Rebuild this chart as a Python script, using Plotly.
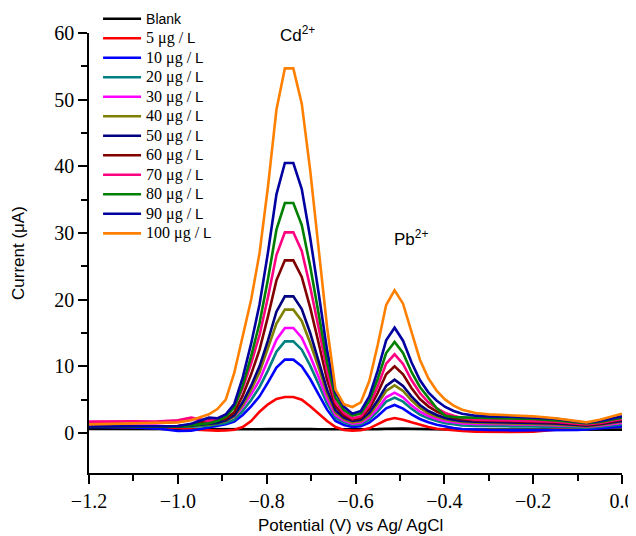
import plotly.graph_objects as go

potential = [-1.20, -1.15, -1.10, -1.05, -1.00, -0.97, -0.930, -0.911, -0.892, -0.873,
             -0.854, -0.835, -0.816, -0.797, -0.778, -0.759, -0.740, -0.721, -0.702, -0.683,
             -0.664, -0.645, -0.626, -0.607, -0.588, -0.569, -0.550, -0.531, -0.512, -0.493,
             -0.474, -0.455, -0.436, -0.417, -0.398, -0.379, -0.360, -0.33, -0.30, -0.25,
             -0.20, -0.15, -0.10, -0.08, -0.05, 0.0]

labels = ["Blank", "5 μg / L", "10 μg / L", "20 μg / L", "30 μg / L", "40 μg / L",
          "50 μg / L", "60 μg / L", "70 μg / L", "80 μg / L", "90 μg / L", "100 μg / L"]

blank = [0.62, 0.60, 0.60, 0.58, 0.57, 0.57, 0.57, 0.57, 0.57, 0.56, 0.56, 0.56, 0.57, 0.58, 0.60, 0.62,
         0.62, 0.60, 0.58, 0.56, 0.55, 0.55, 0.55, 0.55, 0.55, 0.56, 0.58, 0.62, 0.66, 0.65, 0.62, 0.58,
         0.55, 0.53, 0.52, 0.52, 0.52, 0.52, 0.50, 0.50, 0.50, 0.50, 0.50, 0.50, 0.50, 0.50]
c5 = [1.0, 0.95, 0.9, 0.85, 0.75, 0.55, 0.4, 0.35, 0.38, 0.5, 0.9, 1.8, 3.2, 4.3, 5.1, 5.4,
      5.4, 5.0, 4.0, 2.9, 1.8, 0.9, 0.45, 0.35, 0.4, 0.7, 1.3, 1.95, 2.25, 2.0, 1.6, 1.2,
      0.9, 0.65, 0.5, 0.4, 0.3, 0.2, 0.15, 0.15, 0.2, 0.5, 0.6, 0.7, 0.8, 1.0]
c10 = [0.9, 0.9, 0.85, 0.7, 0.3, 0.35, 0.8, 1.1, 1.3, 1.7, 2.7, 4.0, 5.5, 7.6, 9.8, 11.0,
       11.0, 10.0, 8.1, 5.8, 3.5, 1.8, 1.2, 0.9, 1.0, 1.55, 2.55, 3.7, 4.2, 3.65, 2.8, 2.1,
       1.6, 1.25, 0.95, 0.75, 0.6, 0.5, 0.45, 0.4, 0.4, 0.4, 0.45, 0.55, 0.7, 1.0]
c20 = [1.0, 1.0, 1.0, 0.95, 0.9, 0.95, 1.1, 1.25, 1.5, 2.0, 3.3, 4.95, 6.9, 9.4, 12.2, 13.75,
       13.75, 12.5, 10.1, 7.3, 4.4, 2.3, 1.6, 1.2, 1.3, 2.0, 3.25, 4.7, 5.3, 4.7, 3.65, 2.75,
       2.2, 1.8, 1.45, 1.3, 1.15, 1.05, 1.0, 1.0, 1.0, 0.95, 0.85, 0.8, 0.95, 1.3]
c30 = [1.4, 1.45, 1.45, 1.45, 1.7, 2.2, 1.6, 1.6, 1.9, 2.45, 3.9, 5.8, 7.95, 10.85, 14.0, 15.75,
       15.75, 14.3, 11.55, 8.4, 5.1, 2.7, 1.85, 1.4, 1.55, 2.35, 3.7, 5.35, 6.05, 5.35, 4.15, 3.2,
       2.55, 2.1, 1.75, 1.6, 1.45, 1.35, 1.3, 1.3, 1.25, 1.2, 1.05, 0.95, 1.1, 1.5]
c40 = [1.0, 1.0, 0.95, 0.95, 1.0, 1.05, 1.25, 1.45, 1.8, 2.5, 4.2, 6.5, 9.1, 12.6, 16.4, 18.5,
       18.5, 16.8, 13.5, 9.8, 5.9, 3.1, 2.1, 1.6, 1.75, 2.7, 4.4, 6.3, 7.15, 6.3, 4.9, 3.75,
       2.95, 2.45, 2.05, 1.85, 1.65, 1.55, 1.5, 1.45, 1.4, 1.3, 1.1, 1.0, 1.2, 1.7]
c50 = [1.0, 1.0, 0.95, 0.95, 1.0, 1.1, 1.3, 1.5, 1.9, 2.65, 4.6, 7.1, 10.0, 13.9, 18.2, 20.5,
       20.5, 18.6, 15.0, 10.8, 6.5, 3.4, 2.3, 1.8, 2.0, 3.05, 4.9, 7.05, 8.0, 7.05, 5.5, 4.2,
       3.3, 2.7, 2.25, 2.0, 1.8, 1.7, 1.65, 1.6, 1.55, 1.45, 1.2, 1.1, 1.3, 1.8]
c60 = [1.0, 1.0, 1.0, 1.0, 1.05, 1.2, 1.9, 2.0, 2.1, 3.1, 5.6, 8.8, 12.5, 17.5, 22.9, 25.9,
       25.9, 23.4, 18.8, 13.5, 8.0, 4.0, 2.65, 2.0, 2.25, 3.6, 6.0, 8.8, 10.0, 8.8, 6.75, 5.1,
       4.0, 3.2, 2.65, 2.3, 2.05, 1.9, 1.85, 1.8, 1.75, 1.6, 1.3, 1.2, 1.4, 2.0]
c70 = [1.7, 1.75, 1.75, 1.7, 1.9, 2.3, 1.8, 2.2, 2.75, 3.9, 6.7, 10.4, 14.7, 20.4, 26.7, 30.1,
       30.1, 27.3, 21.9, 15.8, 9.3, 4.6, 3.0, 2.2, 2.5, 4.1, 7.0, 10.4, 11.8, 10.35, 7.95, 6.0,
       4.6, 3.7, 3.0, 2.6, 2.25, 2.0, 1.95, 1.9, 1.85, 1.7, 1.4, 1.3, 1.5, 2.1]
c80 = [1.0, 1.0, 1.0, 0.95, 1.0, 1.15, 1.45, 1.8, 2.45, 3.8, 7.1, 11.5, 16.5, 23.1, 30.5, 34.5,
       34.5, 31.2, 25.0, 17.9, 10.6, 5.3, 3.45, 2.6, 2.95, 4.8, 8.1, 12.0, 13.65, 12.0, 9.15, 6.9,
       5.25, 3.7, 2.6, 2.4, 2.35, 2.3, 2.2, 2.15, 2.1, 1.9, 1.55, 1.45, 1.65, 2.3]
c90 = [1.0, 1.0, 1.0, 1.0, 1.05, 1.4, 2.3, 2.2, 2.8, 4.35, 8.3, 13.4, 19.3, 27.1, 35.8, 40.5,
       40.5, 36.6, 29.3, 21.0, 12.4, 6.1, 3.95, 2.9, 3.3, 5.5, 9.35, 13.9, 15.8, 13.85, 10.6, 7.95,
       6.1, 4.85, 3.9, 3.3, 2.9, 2.6, 2.5, 2.45, 2.35, 2.15, 1.7, 1.55, 1.8, 2.5]
c100 = [1.3, 1.4, 1.5, 1.55, 1.6, 1.9, 2.8, 3.6, 5.0, 9.0, 14.5, 20.0, 27.0, 37.0, 48.5, 54.7,
        54.7, 49.4, 39.4, 27.9, 15.9, 6.5, 4.3, 3.9, 4.6, 7.8, 13.2, 19.2, 21.4, 19.4, 15.0, 11.0,
        8.2, 6.3, 5.0, 4.1, 3.5, 3.0, 2.8, 2.65, 2.5, 2.2, 1.7, 1.6, 2.0, 2.9]

series = [blank, c5, c10, c20, c30, c40, c50, c60, c70, c80, c90, c100]
colors = ["#000000", "#FF0000", "#0000FF", "#008080", "#FF00FF", "#808000",
          "#000080", "#800000", "#FF0080", "#008000", "#0000A0", "#FF8000"]

SERIF = "Liberation Serif, Times New Roman, serif"
SANS = "Liberation Sans, Arial, sans-serif"


def legend_name(lab):
    if lab == "Blank":
        return f"<span style='font-family:{SANS};font-size:14px'>Blank</span>"
    return (f"<span style='font-family:{SERIF};font-size:16px'>{lab[:-1]}</span>"
            f"<span style='font-family:{SANS};font-size:15px'>L</span>")


fig = go.Figure()
for lab, vals, col in zip(labels, series, colors):
    fig.add_trace(go.Scatter(x=potential, y=vals, mode="lines", name=legend_name(lab),
                             line=dict(color=col, width=2.6)))

fig.update_layout(
    width=628, height=528,
    margin=dict(l=81, r=14, t=25, b=63, autoexpand=False),
    paper_bgcolor="white", plot_bgcolor="white",
    showlegend=True,
    legend=dict(x=0.017, y=1.066, xanchor="left", yanchor="top",
                font=dict(family=SERIF, size=12.7, color="black"),
                bgcolor="rgba(0,0,0,0)", tracegroupgap=0, itemwidth=38, maxheight=1.0),
    xaxis=dict(range=[-1.2, 0.0], tickmode="array", automargin=False,
               tickvals=[-1.2, -1.0, -0.8, -0.6, -0.4, -0.2, 0.0],
               ticktext=["\u22121.2", "\u22121.0", "\u22120.8", "\u22120.6", "\u22120.4", "\u22120.2", "0.0"],
               ticks="outside", ticklen=9, tickwidth=1.5, tickcolor="black",
               minor=dict(tickvals=[-1.1, -0.9, -0.7, -0.5, -0.3, -0.1], ticks="outside",
                          ticklen=6, tickwidth=1.5, tickcolor="black"),
               showline=True, linecolor="black", linewidth=1.5, showgrid=False, zeroline=False,
               tickfont=dict(family=SERIF, size=20, color="black")),
    yaxis=dict(range=[-6, 60], tickmode="array", tickvals=[0, 10, 20, 30, 40, 50, 60],
               automargin=False,
               ticks="outside", ticklen=9, tickwidth=1.5, tickcolor="black",
               minor=dict(tickvals=[5, 15, 25, 35, 45, 55], ticks="outside",
                          ticklen=6, tickwidth=1.5, tickcolor="black"),
               showline=True, linecolor="black", linewidth=1.5, showgrid=False, zeroline=False,
               tickfont=dict(family=SERIF, size=20, color="black")),
    annotations=[
        dict(text="Current (μA)", xref="paper", yref="paper", x=0, y=0.5, xshift=-71,
             textangle=-90, showarrow=False, xanchor="center", yanchor="middle",
             font=dict(family=SANS, size=17, color="black")),
        dict(text="Potential (V) vs Ag/ AgCl", xref="paper", yref="paper", x=0.5, y=0,
             xshift=-5, yshift=-52, showarrow=False, xanchor="center", yanchor="middle",
             font=dict(family=SANS, size=17, color="black")),
        dict(text="Cd<sup>2+</sup>", xref="x", yref="paper", x=-0.731, y=1.0, yshift=-1,
             showarrow=False, xanchor="center", yanchor="middle",
             font=dict(family=SANS, size=17, color="black")),
        dict(text="Pb<sup>2+</sup>", xref="x", yref="y", x=-0.475, y=29.2, showarrow=False,
             xanchor="center", yanchor="middle", font=dict(family=SANS, size=17, color="black")),
    ],
)

fig.write_html("out.html")
